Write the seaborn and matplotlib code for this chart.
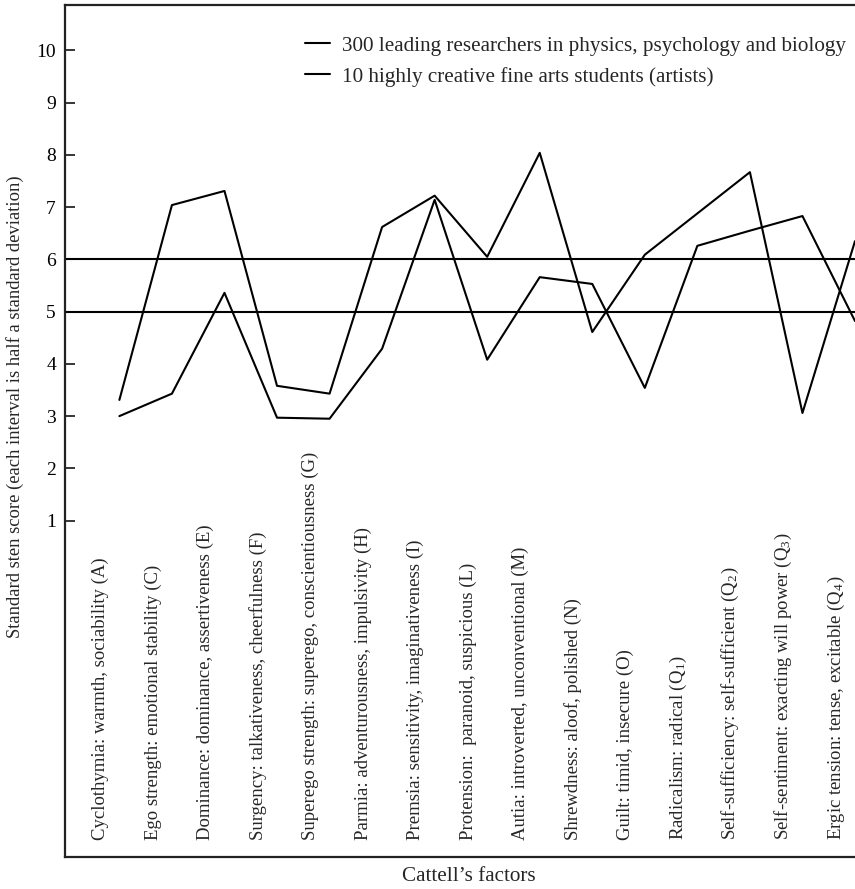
import numpy as np
import pandas as pd
import matplotlib
matplotlib.use("Agg")
import matplotlib.pyplot as plt
import matplotlib.transforms as mtransforms
import seaborn as sns

# Cattell's 16 PF - factor names (tick labels)
factors = [
    "Cyclothymia: warmth, sociability (A)",
    "Ego strength: emotional stability (C)",
    "Dominance: dominance, assertiveness (E)",
    "Surgency: talkativeness, cheerfulness (F)",
    "Superego strength: superego, conscientiousness (G)",
    "Parmia: adventurousness, impulsivity (H)",
    "Premsia: sensitivity, imaginativeness (I)",
    "Protension:  paranoid, suspicious (L)",
    "Autia: introverted, unconventional (M)",
    "Shrewdness: aloof, polished (N)",
    "Guilt: timid, insecure (O)",
    r"Radicalism: radical (Q$_\mathregular{1}$)",
    r"Self-sufficiency: self-sufficient (Q$_\mathregular{2}$)",
    r"Self-sentiment: exacting will power (Q$_\mathregular{3}$)",
    r"Ergic tension: tense, excitable (Q$_\mathregular{4}$)",
]

# sten scores
researchers = [3.31, 7.04, 7.31, 3.58, 3.43, 6.62, 7.22, 6.05, 8.04, 4.61, 6.09, 6.88, 7.67, 3.06, 6.35]
artists = [3.00, 3.43, 5.36, 2.97, 2.95, 4.29, 7.14, 4.08, 5.66, 5.53, 3.54, 6.26, 6.55, 6.83, 4.82]

label_researchers = "300 leading researchers in physics, psychology and biology"
label_artists = "10 highly creative fine arts students (artists)"

y_ticks = [1, 2, 3, 4, 5, 6, 7, 8, 9, 10]
band = [5, 6]

pos = np.arange(len(factors))
df = pd.DataFrame({"pos": pos, "researchers": researchers, "artists": artists})

sns.set_theme(style="white")
plt.rcParams["font.family"] = ["Liberation Serif", "DejaVu Serif"]
plt.rcParams["mathtext.fontset"] = "stix"

fig = plt.figure(figsize=(8.55, 8.89), dpi=100)
ax = fig.add_axes([65 / 855, 32 / 889, 790 / 855, 852 / 889])

sns.lineplot(data=df, x="pos", y="researchers", color="black", linewidth=1.5,
             label=label_researchers, ax=ax, sort=False)
sns.lineplot(data=df, x="pos", y="artists", color="black", linewidth=1.5,
             label=label_artists, ax=ax, sort=False)

for b in band:
    ax.axhline(b, color="black", linewidth=1.5, zorder=1)

ax.set_xlim(-1.035, 13.83)
ax.set_ylim(-5.44, 10.87)

ax.set_yticks(y_ticks)
ax.set_yticklabels([str(t) for t in y_ticks], fontsize=14)
ax.tick_params(axis="y", direction="in", length=7.5, width=1.1, pad=6.5, colors="black", left=True)

ax.set_xticks(pos)
ax.set_xticklabels(factors, rotation=90, fontsize=13.5, va="bottom", ha="center")
ax.tick_params(axis="x", length=0, pad=-12.2)
shift = mtransforms.ScaledTranslation(-19 / 100, 0, fig.dpi_scale_trans)
for lab in ax.get_xticklabels():
    lab.set_transform(lab.get_transform() + shift)

ax.set_xlabel("Cattell\u2019s factors", fontsize=15.2, va="top")
ax.xaxis.set_label_coords(0.511, -0.012)
ax.set_ylabel("Standard sten score (each interval is half a standard deviation)", fontsize=13.4)
ax.yaxis.set_label_coords(-0.052, 0.529)

for side in ["left", "bottom", "top"]:
    ax.spines[side].set_color("#222222")
    ax.spines[side].set_linewidth(1.6)
ax.spines["right"].set_visible(False)

ax.legend(loc="upper left", bbox_to_anchor=(0.3038, 0.9636), frameon=False,
          fontsize=15.2, handlelength=1.19, handletextpad=0.57,
          borderpad=0, borderaxespad=0, labelspacing=0.52)

fig.savefig("out.png", dpi=100)
